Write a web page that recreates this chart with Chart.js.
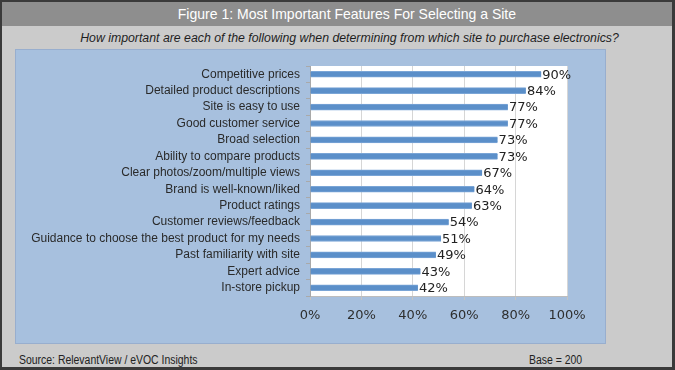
<!DOCTYPE html>
<html>
<head>
<meta charset="utf-8">
<script src="https://cdn.jsdelivr.net/npm/chart.js@4"></script>
<style>
  html, body { margin: 0; padding: 0; }
  body { width: 675px; height: 370px; overflow: hidden; background: #cbcbcb; }
  .frame {
    position: absolute; left: 0; top: 0; width: 675px; height: 370px;
    box-sizing: border-box; background: #cbcbcb;
    border-top: 2px solid #3a3a3a; border-left: 2px solid #3a3a3a;
    border-right: 3px solid #3a3a3a; border-bottom: 3px solid #3a3a3a;
  }
  .title-bar {
    position: absolute; left: 2px; top: 2px; width: 670px; height: 24px;
    background: #8e8e8e; color: #fff;
    font: 15px "Liberation Sans", Arial, sans-serif;
    line-height: 24px; text-align: center; padding-left: 20px; box-sizing: border-box;
  }
  .title-bar span { display: inline-block; transform: scaleX(0.935); }
  .subtitle {
    position: absolute; left: 24px; top: 31px; width: 651px;
    text-align: center; font: italic 12.3px "Liberation Sans", Arial, sans-serif; color: #1e1e1e;
  }
  .panel {
    position: absolute; left: 15px; top: 49px; width: 591px; height: 295px;
    box-sizing: border-box; background: #a7c0de; border: 1px solid #98aece;
  }
  .panel canvas { position: absolute; left: -1px; top: -1px; }
  .foot {
    position: absolute; top: 353px; transform: scaleX(0.87); transform-origin: left center;
    font: 12px "Liberation Sans", Arial, sans-serif; color: #222;
  }
</style>
</head>
<body>
<div class="frame"></div>
<div class="title-bar"><span>Figure 1: Most Important Features For Selecting a Site</span></div>
<div class="subtitle">How important are each of the following when determining from which site to purchase electronics?</div>
<div class="panel">
  <canvas id="featuresChart" width="591" height="295"></canvas>
</div>
<div class="foot" style="left: 19px;">Source: RelevantView / eVOC Insights</div>
<div class="foot" style="left: 529px;">Base = 200</div>

<script>
// Chart data
const features = [
    'Competitive prices',
    'Detailed product descriptions',
    'Site is easy to use',
    'Good customer service',
    'Broad selection',
    'Ability to compare products',
    'Clear photos/zoom/multiple views',
    'Brand is well-known/liked',
    'Product ratings',
    'Customer reviews/feedback',
    'Guidance to choose the best product for my needs',
    'Past familiarity with site',
    'Expert advice',
    'In-store pickup'
];
const importance = [90, 84, 77, 77, 73, 73, 67, 64, 63, 54, 51, 49, 43, 42];
const axisTicks = [0, 20, 40, 60, 80, 100];

// White plot area behind the bars
const plotBackground = {
    id: 'plotBackground',
    beforeDraw(chart) {
        const { ctx, chartArea } = chart;
        ctx.save();
        ctx.fillStyle = '#ffffff';
        ctx.fillRect(chartArea.left, chartArea.top, chartArea.right - chartArea.left, chartArea.bottom - chartArea.top);
        ctx.restore();
    }
};

// Percentage labels at the end of each bar
const barLabels = {
    id: 'barLabels',
    afterDatasetsDraw(chart) {
        const { ctx } = chart;
        const meta = chart.getDatasetMeta(0);
        ctx.save();
        ctx.font = '13px "DejaVu Sans", sans-serif';
        ctx.fillStyle = '#222222';
        ctx.textAlign = 'left';
        ctx.textBaseline = 'middle';
        meta.data.forEach((bar, i) => {
            ctx.fillText(importance[i] + '%', bar.x + 1, bar.y + 1);
        });
        ctx.restore();
    }
};

const ctx = document.getElementById('featuresChart').getContext('2d');
new Chart(ctx, {
    type: 'bar',
    data: {
        labels: features,
        datasets: [{
            data: importance,
            backgroundColor: '#5b8fc9',
            borderColor: '#7aa5d6',
            borderWidth: { top: 1, bottom: 1, right: 0, left: 0 },
            barThickness: 6
        }]
    },
    options: {
        indexAxis: 'y',
        responsive: false,
        animation: false,
        layout: {
            padding: { top: 17, right: 39, bottom: 18, left: 0 }
        },
        scales: {
            x: {
                min: 0,
                max: 100,
                afterBuildTicks(axis) {
                    axis.ticks = axisTicks.map(v => ({ value: v }));
                },
                afterFit(axis) {
                    axis.height = 30;
                },
                grid: {
                    color: '#d6d6d6',
                    tickLength: 4,
                    tickColor: '#c4c4c4'
                },
                border: { color: '#bdbdbd' },
                ticks: {
                    padding: 8,
                    color: '#2e2e2e',
                    font: { family: 'DejaVu Sans', size: 13 },
                    callback: v => v + '%'
                }
            },
            y: {
                afterFit(axis) {
                    axis.width = 295;
                },
                grid: {
                    drawOnChartArea: false,
                    tickLength: 4,
                    color: '#a9a9a9'
                },
                border: { color: '#a9a9a9' },
                ticks: {
                    padding: 6,
                    color: '#2a2a2a',
                    autoSkip: false,
                    font: { family: 'Liberation Sans', size: 12 }
                }
            }
        },
        plugins: {
            legend: { display: false },
            tooltip: { enabled: false }
        }
    },
    plugins: [plotBackground, barLabels]
});
</script>
</body>
</html>
